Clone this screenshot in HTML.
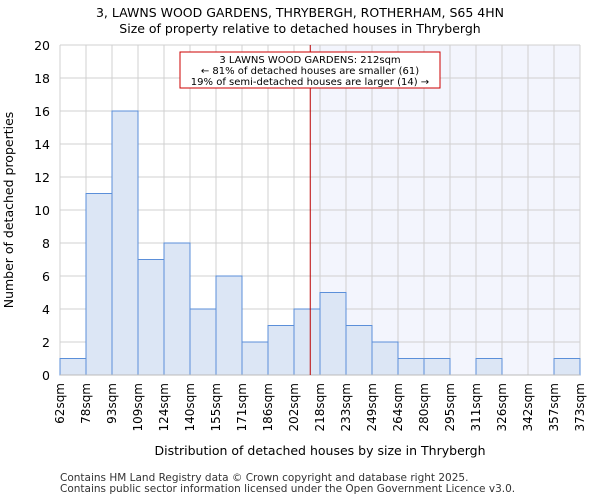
<!DOCTYPE html>
<html><head><meta charset="utf-8"><style>
body{margin:0;background:#fff;font-family:"DejaVu Sans","Liberation Sans",sans-serif}
</style></head><body>
<svg id="chart" width="600" height="500" xmlns="http://www.w3.org/2000/svg" font-family="DejaVu Sans, Liberation Sans, sans-serif">
<text x="300" y="17" text-anchor="middle" font-size="12.5">3, LAWNS WOOD GARDENS, THRYBERGH, ROTHERHAM, S65 4HN</text>
<text x="300" y="33" text-anchor="middle" font-size="12.5">Size of property relative to detached houses in Thrybergh</text>
<g id="plot"></g>
<text x="320" y="455" text-anchor="middle" font-size="12.5">Distribution of detached houses by size in Thrybergh</text>
<text transform="translate(13,210) rotate(-90)" text-anchor="middle" font-size="12.5">Number of detached properties</text>
<text x="60" y="481" font-size="10.5" fill="#333">Contains HM Land Registry data © Crown copyright and database right 2025.</text>
<text x="60" y="492" font-size="10.5" fill="#333">Contains public sector information licensed under the Open Government Licence v3.0.</text>
</svg>
<script>
const binLabels=["62sqm","78sqm","93sqm","109sqm","124sqm","140sqm","155sqm","171sqm","186sqm","202sqm","218sqm","233sqm","249sqm","264sqm","280sqm","295sqm","311sqm","326sqm","342sqm","357sqm","373sqm"];
const counts=[1,11,16,7,8,4,6,2,3,4,5,3,2,1,1,0,1,0,0,1];
const yTicks=[0,2,4,6,8,10,12,14,16,18,20];
const propertyBin=9.625;
const NS="http://www.w3.org/2000/svg";
const g=document.getElementById('plot');
const X0=60,X1=580,Y0=375,Y1=45,YMAX=20;
const bw=(X1-X0)/counts.length;
const xs=i=>X0+i*bw;
const ys=v=>Y0-(v/YMAX)*(Y0-Y1);
function mk(t,a){const e=document.createElementNS(NS,t);for(const k in a)e.setAttribute(k,a[k]);g.appendChild(e);return e;}
const lx=xs(propertyBin);
let sh=mk('rect',{x:lx,y:Y1,width:X1-lx,height:Y0-Y1,fill:'#f3f5fd'});


yTicks.forEach(v=>{
 let l=mk('line',{x1:X0,x2:X1,y1:ys(v),y2:ys(v),stroke:'#d0d0d0','stroke-width':1});
 
 
 let t=mk('text',{x:X0-10,y:ys(v)+5,'text-anchor':'end','font-size':12.5});
 t.textContent=v;
 
 
});
binLabels.forEach((s,i)=>{
 let l=mk('line',{x1:xs(i),x2:xs(i),y1:Y1,y2:Y0,stroke:'#d0d0d0','stroke-width':1});
 
 
 let t=mk('text',{transform:`translate(${xs(i)+4},${Y0+8}) rotate(-90)`,'text-anchor':'end','font-size':12});
 t.textContent=s;
 
 
});
counts.forEach((c,i)=>{
 if(c<=0)return;
 let r=mk('rect',{x:xs(i),y:ys(c),width:bw,height:Y0-ys(c),fill:'#dce6f5',stroke:'#5b8fd9','stroke-width':1});
 
 
});
let ax=mk('line',{x1:X0,x2:X1,y1:Y0,y2:Y0,stroke:'#bbb'});


let pl=mk('line',{x1:lx,x2:lx,y1:Y1,y2:Y0,stroke:'#b00','stroke-width':1});


let box=mk('rect',{x:180,y:52,width:260,height:36,fill:'#fff',stroke:'#c00','stroke-width':1});


["3 LAWNS WOOD GARDENS: 212sqm","← 81% of detached houses are smaller (61)","19% of semi-detached houses are larger (14) →"].forEach((s,i)=>{
 let t=mk('text',{x:310,y:63+i*11,'text-anchor':'middle','font-size':10});
 t.textContent=s;
 
 
});
</script>
</body></html>
